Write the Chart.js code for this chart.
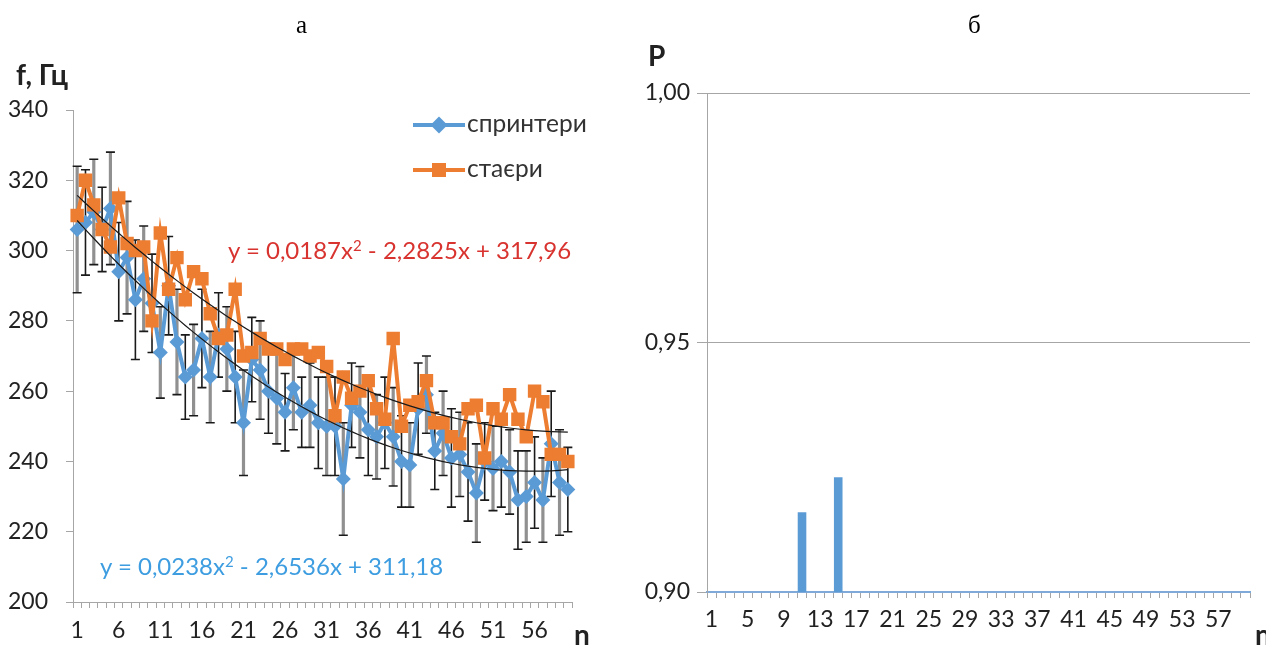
<!DOCTYPE html>
<html>
<head>
<meta charset="utf-8">
<script src="https://cdn.jsdelivr.net/npm/chart.js@4.4.1/dist/chart.umd.min.js"></script>
<style>
  body { margin: 0; background: #fff; width: 1266px; height: 646px; overflow: hidden; position: relative; font-family: Lato, "Noto Sans", sans-serif; }
  canvas { position: absolute; top: 0; }
  .t { position: absolute; white-space: nowrap; line-height: 1; }
  .ttl { font-family: "Liberation Serif", serif; font-size: 25px; color: #000; }
  .ax { font-weight: bold; font-size: 28px; color: #222; }
  .eq { font-size: 24px; }
  .eq sup { font-size: 15px; vertical-align: 8px; }
  .lg { font-size: 24.5px; color: #333; }
  .sym { position: absolute; height: 4px; width: 52px; }
</style>
</head>
<body>
<canvas id="left" width="620" height="646" style="left:0"></canvas>
<canvas id="right" width="633" height="646" style="left:633px"></canvas>

<div class="t ttl" style="left:296px;top:12px">а</div>
<div class="t ttl" style="left:968px;top:12px">б</div>
<div class="t ax" style="left:16px;top:60px">f, Гц</div>
<div class="t ax" style="left:574px;top:620px">n</div>
<div class="t ax" style="left:648px;top:41px">P</div>
<div class="t ax" style="left:1255px;top:620px">n</div>

<div class="t eq" style="left:228px;top:238px;color:#d8332f">y = 0,0187x<sup>2</sup> - 2,2825x + 317,96</div>
<div class="t eq" style="left:100px;top:554px;color:#3d9de0">y = 0,0238x<sup>2</sup> - 2,6536x + 311,18</div>

<div class="sym" style="left:413px;top:123px;background:#5b9bd5"></div>
<div style="position:absolute;left:433px;top:119px;width:12px;height:12px;background:#5b9bd5;transform:rotate(45deg)"></div>
<div class="t lg" style="left:467px;top:111px">спринтери</div>
<div class="sym" style="left:413px;top:168px;background:#ed7d31"></div>
<div style="position:absolute;left:432px;top:163px;width:14px;height:14px;background:#ed7d31"></div>
<div class="t lg" style="left:467px;top:156px">стаєри</div>

<script>
// n = 1..60
const nLabels = Array.from({length: 60}, (_, i) => String(i + 1));

// mean frequency, sprinters
const sprinters = [306, 308, 311, 306, 312, 294, 298, 286, 292, 285,
                   271, 290, 274, 264, 266, 275, 264, 276, 272, 264,
                   251, 269, 266, 260, 258, 254, 261, 254, 256, 251,
                   250, 250, 235, 256, 254, 249, 247, 251, 247, 240,
                   239, 255, 259, 243, 248, 241, 242, 237, 231, 240,
                   238, 240, 237, 229, 230, 234, 229, 245, 234, 232];
// error bar half-lengths for sprinters
const sprintersErr = [18, 15, 15, 12, 16, 14, 16, 17, 15, 14,
                      13, 14, 15, 12, 13, 14, 13, 12, 12, 13,
                      15, 12, 14, 12, 13, 11, 12, 10, 12, 13,
                      14, 14, 16, 12, 13, 13, 12, 13, 14, 13,
                      12, 13, 11, 11, 12, 14, 12, 14, 14, 11,
                      12, 13, 12, 14, 13, 13, 12, 15, 15, 12];
// mean frequency, stayers
const stayers = [310, 320, 313, 306, 301, 315, 302, 300, 301, 280,
                 305, 289, 298, 286, 294, 292, 282, 275, 276, 289,
                 270, 271, 275, 272, 272, 269, 272, 272, 270, 271,
                 267, 253, 264, 258, 260, 263, 255, 252, 275, 250,
                 256, 257, 263, 251, 251, 247, 245, 255, 256, 241,
                 255, 252, 259, 252, 247, 260, 257, 242, 242, 240];

// polynomial trend coefficients [a, b, c] : y = a x^2 + b x + c
const fitSprinters = [0.0238, -2.6536, 311.18];
const fitStayers = [0.0187, -2.2825, 317.96];

// probability P
const probP = [0.90, 0.90, 0.90, 0.90, 0.90, 0.90, 0.90, 0.90, 0.90, 0.90,
               0.916, 0.90, 0.90, 0.90, 0.923, 0.90, 0.90, 0.90, 0.90, 0.90,
               0.90, 0.90, 0.90, 0.90, 0.90, 0.90, 0.90, 0.90, 0.90, 0.90,
               0.90, 0.90, 0.90, 0.90, 0.90, 0.90, 0.90, 0.90, 0.90, 0.90,
               0.90, 0.90, 0.90, 0.90, 0.90, 0.90, 0.90, 0.90, 0.90, 0.90,
               0.90, 0.90, 0.90, 0.90, 0.90, 0.90, 0.90, 0.90, 0.90, 0.90];

const BLUE = '#5b9bd5', ORANGE = '#ed7d31', AXIS = '#a6a6a6';
const tickFont = {family: 'Lato', size: 23};

function trend(c) {
  return nLabels.map((_, i) => { const x = i + 1; return c[0] * x * x + c[1] * x + c[2]; });
}

const errBars = {
  id: 'errBars',
  beforeDatasetsDraw(chart) {
    const ctx = chart.ctx, xs = chart.scales.x, ys = chart.scales.y;
    ctx.save();
    sprinters.forEach((v, i) => {
      const x = xs.getPixelForValue(i);
      const top = ys.getPixelForValue(v + sprintersErr[i]);
      const bot = ys.getPixelForValue(v - sprintersErr[i]);
      const black = (i % 2 === 1);
      ctx.strokeStyle = black ? '#1a1a1a' : '#909090';
      ctx.lineWidth = black ? 1.6 : 3.2;
      ctx.beginPath(); ctx.moveTo(x, top); ctx.lineTo(x, bot); ctx.stroke();
      ctx.strokeStyle = '#1a1a1a';
      ctx.lineWidth = 1.6;
      ctx.beginPath();
      ctx.moveTo(x - 4.5, top); ctx.lineTo(x + 4.5, top);
      ctx.moveTo(x - 4.5, bot); ctx.lineTo(x + 4.5, bot);
      ctx.stroke();
    });
    ctx.restore();
  }
};

new Chart(document.getElementById('left'), {
  type: 'line',
  data: {
    labels: nLabels,
    datasets: [
      {label: 'trend stayers', data: trend(fitStayers), borderColor: '#1a1a1a', borderWidth: 1.2, pointRadius: 0, fill: false},
      {label: 'trend sprinters', data: trend(fitSprinters), borderColor: '#1a1a1a', borderWidth: 1.2, pointRadius: 0, fill: false},
      {label: 'стаєри', data: stayers, borderColor: ORANGE, backgroundColor: ORANGE, borderWidth: 4,
       pointStyle: 'rect', pointRadius: 9.5, pointBorderWidth: 0},
      {label: 'спринтери', data: sprinters, borderColor: BLUE, backgroundColor: BLUE, borderWidth: 4,
       pointStyle: 'rectRot', pointRadius: 7.5, pointBorderWidth: 0}
    ]
  },
  options: {
    responsive: false,
    animation: false,
    layout: {padding: {top: 110, right: 48, left: 0, bottom: 0}},
    plugins: {legend: {display: false}, tooltip: {enabled: false}},
    scales: {
      x: {
        offset: true,
        grid: {offset: true, drawOnChartArea: false, color: AXIS, tickLength: 6},
        border: {color: AXIS},
        ticks: {
          autoSkip: false, maxRotation: 0, padding: 9, color: '#222', font: tickFont,
          callback: function (val, idx) { return idx % 5 === 0 ? this.getLabelForValue(val) : ''; }
        },
        afterFit(s) { s.height = 44; }
      },
      y: {
        min: 200, max: 340,
        ticks: {stepSize: 20, padding: 18, color: '#222', font: tickFont},
        grid: {drawOnChartArea: false, color: AXIS, tickLength: 7},
        border: {color: AXIS},
        afterFit(s) { s.width = 73; }
      }
    }
  },
  plugins: [errBars]
});

new Chart(document.getElementById('right'), {
  type: 'bar',
  data: {
    labels: nLabels,
    datasets: [{label: 'P', data: probP, backgroundColor: BLUE, barPercentage: 0.95, categoryPercentage: 1}]
  },
  options: {
    responsive: false,
    animation: false,
    layout: {padding: {top: 93, right: 16, left: 0, bottom: 0}},
    plugins: {legend: {display: false}, tooltip: {enabled: false}},
    scales: {
      x: {
        grid: {offset: true, drawOnChartArea: false, color: AXIS, tickLength: 6},
        border: {color: '#7fa9d8', width: 2},
        ticks: {
          autoSkip: false, maxRotation: 0, padding: 8, color: '#222', font: tickFont,
          callback: function (val, idx) { return idx % 4 === 0 ? this.getLabelForValue(val) : ''; }
        },
        afterFit(s) { s.height = 54; }
      },
      y: {
        min: 0.9, max: 1.0,
        ticks: {stepSize: 0.05, padding: 7, color: '#222', font: tickFont,
                callback: v => v.toFixed(2).replace('.', ',')},
        grid: {color: AXIS, tickLength: 10},
        border: {color: AXIS},
        afterFit(s) { s.width = 74; }
      }
    }
  }
});
</script>
</body>
</html>
